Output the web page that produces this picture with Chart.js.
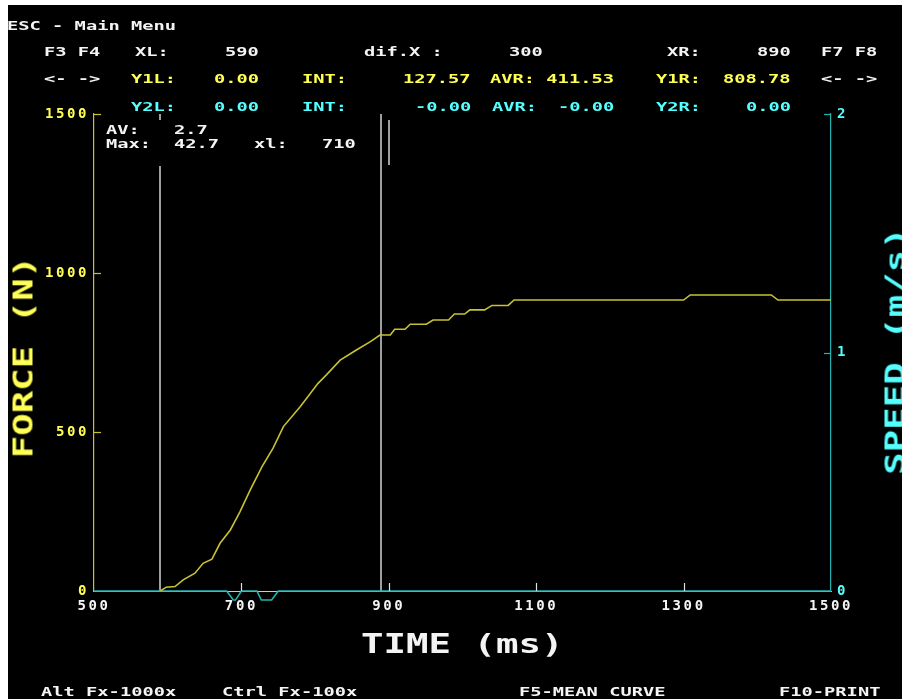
<!DOCTYPE html>
<html><head><meta charset="utf-8">
<script src="https://cdn.jsdelivr.net/npm/chart.js@4.4.1/dist/chart.umd.min.js"></script>
<style>
html,body{margin:0;padding:0;background:#fff;width:902px;height:699px;overflow:hidden;position:relative}
#wrap{position:absolute;left:8px;top:5px;width:894px;height:694px;background:#000}
canvas{display:block}
.t{position:absolute;font-family:'DejaVu Sans Mono',monospace;font-weight:bold;line-height:1;white-space:pre;transform-origin:0 0}
</style></head><body>
<div id="wrap"><canvas id="c" width="894" height="694"></canvas></div>
<script>
// ---- data ----
const forceTime   = [590,598,610,621,637,648,660,671,685,698,712,728,743,757,780,804,815,834,856,875,888,902,908,922,929,951,960,981,989,1003,1010,1030,1040,1062,1070,1300,1309,1419,1428,1500];
const forceValues = [0,12,14,35,56,87,100,150,192,249,318,391,449,517,580,653,679,726,758,784,805,805,823,823,839,839,852,852,871,871,884,884,898,898,915,915,931,931,915,915];
const speedTime   = [500,680,689,692,700,721,727,741,750,1500];
const speedValues = [0,0,-0.038,-0.038,0,0,-0.038,-0.038,0,0];
const timeTicks   = [500,700,900,1100,1300,1500];
const forceTicks  = [0,500,1000,1500];
const speedTicks  = [0,1,2];
const cursorLeft = 590, cursorRight = 890, markerX = 900;

const YEL='#ffff55', CYA='#55ffff', WHT='#f4f4f4';
const LINE_Y='#c8c232', LINE_C='#22b4b4';

const FS=12, SX=1.56;
function put(txt,x,cap,color,align,size,sx){
  size=size||FS; sx=sx||SX;
  const cell=size*0.6021*sx;
  const d=document.createElement('div');
  d.className='t'; d.textContent=txt;
  let left = align==='r' ? x - txt.length*cell + 1 : x - 1;
  d.style.left=left+'px'; d.style.top=(cap-0.117*size)+'px';
  d.style.fontSize=size+'px'; d.style.color=color;
  d.style.transform='scaleX('+sx+')';
  document.body.appendChild(d);
}
const header = [
 ['ESC - Main Menu',7.5,21,WHT,'l'],
 ['F3 F4',45,47,WHT,'l'],['XL:',136,47,WHT,'l'],['590',258,47,WHT,'r'],['dif.X :',365,47,WHT,'l'],
 ['300',542,47,WHT,'r'],['XR:',700,47,WHT,'r'],['890',790,47,WHT,'r'],['F7 F8',822,47,WHT,'l'],
 ['<- ->',45,74,WHT,'l'],['Y1L:',132,74,YEL,'l'],['0.00',258,74,YEL,'r'],['INT:',303,74,YEL,'l'],
 ['127.57',470,74,YEL,'r'],['AVR: 411.53',613,74,YEL,'r'],['Y1R:',700,74,YEL,'r'],['808.78',790,74,YEL,'r'],['<- ->',822,74,WHT,'l'],
 ['Y2L:',132,102,CYA,'l'],['0.00',258,102,CYA,'r'],['INT:',303,102,CYA,'l'],['-0.00',470,102,CYA,'r'],
 ['AVR:',493,102,CYA,'l'],['-0.00',613,102,CYA,'r'],['Y2R:',700,102,CYA,'r'],['0.00',790,102,CYA,'r'],
 ['AV:',107,125,WHT,'l'],['2.7',175,125,WHT,'l'],
 ['Max:',107,139,WHT,'l'],['42.7',175,139,WHT,'l'],['xl:',255,139,WHT,'l'],['710',355,139,WHT,'r'],
 ['Alt Fx-1000x',42,687,WHT,'l'],['Ctrl Fx-100x',223,687,WHT,'l'],['F5-MEAN CURVE',520,687,WHT,'l'],['F10-PRINT',780,687,WHT,'l']
];
header.forEach(h=>put(h[0],h[1],h[2],h[3],h[4]));
// big titles
const BFS=27, BSX=1.385;
put('TIME (ms)',362,633,WHT,'l',BFS,BSX);
function rot(txt,cx,cy,color){
  const d=document.createElement('div');
  d.className='t'; d.textContent=txt;
  d.style.fontSize=BFS+'px'; d.style.color=color;
  d.style.left=cx+'px'; d.style.top=cy+'px';
  d.style.transformOrigin='center';
  d.style.transform='translate(-50%,-50%) rotate(-90deg) scaleX('+BSX+')';
  document.body.appendChild(d);
}
rot('FORCE (N)',23.3,357,YEL);
rot('SPEED (m/s)',895.3,351,CYA);

const tickFont={family:"'DejaVu Sans Mono', monospace",weight:'bold',size:14};
const plain = v => String(v);

const spacing={id:'spacing',
  beforeDraw(c){ c.ctx.letterSpacing='2.6px'; },
  afterDraw(c){ c.ctx.letterSpacing='0px'; }
};
const decor={id:'decor',
  beforeDatasetsDraw(chart){
    const {ctx,chartArea:a,scales:{x}}=chart;
    ctx.save();
    ctx.strokeStyle='#d4d4d4'; ctx.lineWidth=1.5;
    [cursorLeft,cursorRight].forEach(v=>{
      const px=Math.round(x.getPixelForValue(v));
      ctx.beginPath(); ctx.moveTo(px,a.top); ctx.lineTo(px,a.bottom); ctx.stroke();
    });
    ctx.fillStyle='#000'; ctx.fillRect(92,115,276,46);
    const mx=Math.round(x.getPixelForValue(markerX));
    ctx.beginPath(); ctx.moveTo(mx,115); ctx.lineTo(mx,160); ctx.stroke();
    ctx.restore();
  },
  afterDraw(chart){
    const {ctx,chartArea:a,scales:{x,y,y2}}=chart;
    ctx.save(); ctx.lineWidth=1.2;
    ctx.strokeStyle=LINE_Y;
    forceTicks.filter(v=>v>0).forEach(v=>{const p=Math.round(y.getPixelForValue(v))+0.5;ctx.beginPath();ctx.moveTo(a.left,p);ctx.lineTo(a.left+7,p);ctx.stroke();});
    ctx.strokeStyle=LINE_C;
    speedTicks.filter(v=>v>0).forEach(v=>{const p=Math.round(y2.getPixelForValue(v))+0.5;ctx.beginPath();ctx.moveTo(a.right-7,p);ctx.lineTo(a.right,p);ctx.stroke();});
    ctx.strokeStyle='#e0e0e0';
    timeTicks.slice(1,-1).forEach(v=>{const p=Math.round(x.getPixelForValue(v))+0.5;ctx.beginPath();ctx.moveTo(p,a.bottom);ctx.lineTo(p,a.bottom-8);ctx.stroke();});
    ctx.restore();
  }
};

new Chart(document.getElementById('c'),{
  type:'line',
  data:{datasets:[
    {label:'Force',data:forceTime.map((t,i)=>({x:t,y:forceValues[i]})),borderColor:LINE_Y,borderWidth:1.6,pointRadius:0,tension:0,yAxisID:'y'},
    {label:'Speed',data:speedTime.map((t,i)=>({x:t,y:speedValues[i]})),borderColor:LINE_C,borderWidth:1.6,pointRadius:0,tension:0,yAxisID:'y2',clip:false}
  ]},
  options:{
    responsive:false,animation:false,events:[],
    layout:{padding:{top:109,left:0,right:0,bottom:0}},
    plugins:{legend:{display:false},tooltip:{enabled:false}},
    scales:{
      x:{type:'linear',position:'bottom',min:500,max:1500,
        afterBuildTicks:s=>{s.ticks=timeTicks.map(v=>({value:v}));},
        afterFit:s=>{s.height=108;},
        grid:{display:false,drawTicks:false},border:{display:true,color:'#d8c4c4',width:1},
        ticks:{color:WHT,font:tickFont,padding:7,autoSkip:false,maxRotation:0,callback:plain}},
      y:{type:'linear',position:'left',min:0,max:1500,
        afterBuildTicks:s=>{s.ticks=forceTicks.map(v=>({value:v}));},
        afterFit:s=>{s.width=86;},
        grid:{display:false,drawTicks:false},border:{display:true,color:LINE_Y,width:1.2},
        ticks:{color:YEL,font:tickFont,padding:5,callback:plain}},
      y2:{type:'linear',position:'right',min:0,max:2,
        afterBuildTicks:s=>{s.ticks=speedTicks.map(v=>({value:v}));},
        afterFit:s=>{s.width=71;},
        grid:{display:false,drawTicks:false},border:{display:true,color:LINE_C,width:1.2},
        ticks:{color:CYA,font:tickFont,padding:6,callback:plain}}
    }
  },
  plugins:[spacing,decor]
});
</script>
</body></html>
